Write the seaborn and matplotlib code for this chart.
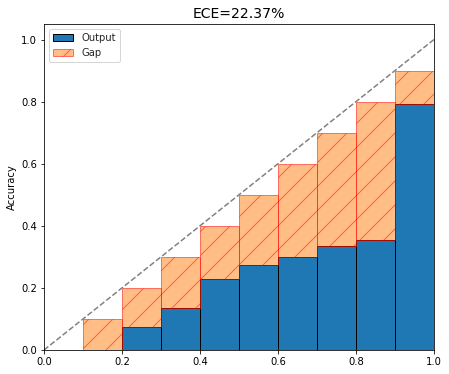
import numpy as np
import matplotlib
matplotlib.use("Agg")
import matplotlib.pyplot as plt
import seaborn as sns
import pandas as pd

bin_lefts = [0.0, 0.1, 0.2, 0.3, 0.4, 0.5, 0.6, 0.7, 0.8, 0.9]
outputs = [0.0, 0.0, 0.073, 0.134, 0.228, 0.273, 0.299, 0.334, 0.354, 0.793]
gap_tops = [0.0, 0.1, 0.2, 0.3, 0.4, 0.5, 0.6, 0.7, 0.8, 0.9]
title = "ECE=22.37%"

sns.set_style("ticks")
plt.rcParams["font.family"] = ["DejaVu Sans"]

DPI = 72
fig = plt.figure(figsize=(449/DPI, 374/DPI), dpi=DPI)
ax = fig.add_axes([44/449, 24/374, 390/449, 326/374])

left = np.array(bin_lefts)
out = np.array(outputs)
gtop = np.array(gap_tops)

ax.bar(left, out, width=0.1, align="edge", color="#1f77b4", edgecolor="black",
       linewidth=1, label="Output")
ax.bar(left, gtop - out, bottom=out, width=0.1, align="edge", color="#ff7f0e",
       alpha=0.5, edgecolor="red", hatch="/", linewidth=1, label="Gap")

diag = pd.DataFrame({"x": [0, 1], "y": [0, 1]})
sns.lineplot(data=diag, x="x", y="y", ax=ax, color="gray", linestyle="--",
             linewidth=1.5)

ax.set_xlim(0, 1)
ax.set_ylim(0, 1.05)
ax.set_xticks([0, 0.2, 0.4, 0.6, 0.8, 1.0])
ax.set_yticks([0, 0.2, 0.4, 0.6, 0.8, 1.0])
ax.set_xlabel("")
ax.set_ylabel("Accuracy", fontsize=10, color="black")
ax.set_title(title, fontsize=14, color="black")
for sp in ax.spines.values():
    sp.set_color("black")
ax.tick_params(colors="black", labelsize=10)
ax.legend(loc="upper left", fontsize=10)

fig.savefig("out.png", dpi=DPI)
